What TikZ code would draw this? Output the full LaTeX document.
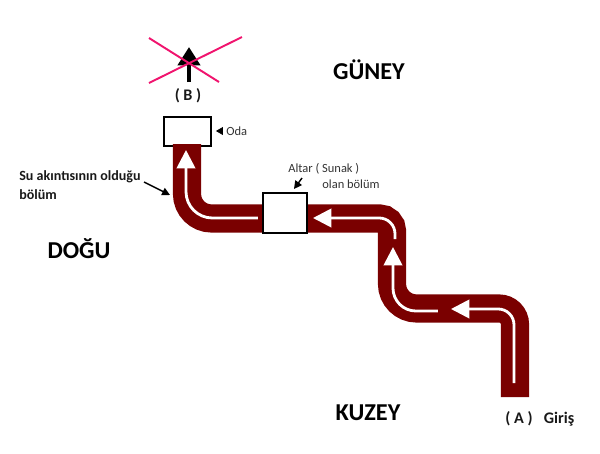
\documentclass[tikz,border=0pt]{standalone}
\usepackage{fontspec}
\setmainfont{Carlito}
\usetikzlibrary{arrows.meta}

\definecolor{boru}{RGB}{122,0,0}
\definecolor{carpi}{RGB}{240,20,110}

\tikzset{
  boruyol/.style={draw=boru, line width=16pt},
  akis/.style={draw=white, line width=1.6pt, -{Triangle[length=10.5pt,width=10.5pt]}},
  kutu/.style={draw=black, fill=white, line width=1pt, inner sep=0pt},
  yon/.style={font=\fontsize{13.8}{15}\selectfont\bfseries, inner sep=0pt},
  etiket/.style={font=\fontsize{7.1}{9}\selectfont, inner sep=0pt, text=black!80},
  kalin/.style={font=\fontsize{8}{10}\selectfont\bfseries, inner sep=0pt, text=black!90},
  harf/.style={font=\fontsize{9.2}{11}\selectfont\bfseries, inner sep=0pt, text=black!90},
  ok/.style={line width=0.8pt, -{Triangle[length=4.5pt,width=4.5pt]}}
}

\begin{document}
\begin{tikzpicture}[x=0.02cm, y=-0.02cm]

\useasboundingbox (0,0) rectangle (600,454);

% ---------- ODA ----------

\node[kutu, minimum width=0.94cm, minimum height=0.58cm] (oda) at (187.5,131.5) {};

% ---------- BORU ----------

\coordinate (b0) at (515,397);
\coordinate (b1) at (515,308.5);
\coordinate (b2) at (392,308.5);
\coordinate (b3) at (392,218.5);
\coordinate (b4) at (187,218.5);
\coordinate (b5) at (187,144);

\draw[boruyol] (b0) [rounded corners=9pt] -- (b1) [rounded corners=14pt] -- (b2)
  [rounded corners=7pt] -- (b3) [rounded corners=14pt] -- (b4) [rounded corners=0pt] -- (b5);

% ---------- SUNAK ----------

\node[kutu, minimum width=0.88cm, minimum height=0.8cm] (sunak) at (285,213) {};

% ---------- AKIS ----------

\coordinate (a0) at (514,383);
\coordinate (a1) at (514,309);
\coordinate (a2) at (451,309);
\coordinate (c0) at (438,311);
\coordinate (c1) at (393,311);
\coordinate (c2) at (393,247);
\coordinate (d0) at (395,239);
\coordinate (d1) at (395,218);
\coordinate (d2) at (313,218);
\coordinate (e0) at (258,218);
\coordinate (e1) at (186,218);
\coordinate (e2) at (186,150);

\draw[akis] (a0) [rounded corners=9pt] -- (a1) [rounded corners=0pt] -- (a2);
\draw[akis] (c0) [rounded corners=13pt] -- (c1) [rounded corners=0pt] -- (c2);
\draw[akis] (d0) [rounded corners=9pt] -- (d1) [rounded corners=0pt] -- (d2);
\draw[akis] (e0) [rounded corners=15pt] -- (e1) [rounded corners=0pt] -- (e2);

% ---------- YASAK OK ----------

\coordinate (y0) at (189,82);
\coordinate (y1) at (189,47);
\draw[line width=2.6pt, -{Triangle[length=10.5pt,width=12.5pt]}] (y0) -- (y1);

\coordinate (x1) at (149,38);
\coordinate (x2) at (219,82);
\coordinate (x3) at (242,37);
\coordinate (x4) at (149,83);
\draw[carpi, line width=1.1pt] (x1) -- (x2);
\draw[carpi, line width=1.1pt] (x3) -- (x4);

% ---------- YONLER ----------

\node[yon] (guney) at (369,70) {GÜNEY};
\node[yon] (dogu) at (79,249) {DOĞU};
\node[yon] (kuzey) at (368,413) {KUZEY};

% ---------- ETIKETLER ----------

\node[harf] (b) at (188,96) {( B )};
\node[harf] (a) at (519,419) {( A )};
\node[harf] (giris) at (559,419) {Giriş};

\node[etiket, anchor=west] (odayazi) at (226,131) {Oda};
\node[etiket, anchor=west] (altar) at (288,169) {Altar ( Sunak )};
\node[etiket, anchor=west] (olan) at (322,184) {olan bölüm};

\node[kalin, anchor=west] (su) at (19,177) {Su akıntısının olduğu};
\node[kalin, anchor=west] (bolum) at (19,195) {bölüm};

% ---------- OKLAR ----------

\coordinate (s0) at (144,182);
\coordinate (s1) at (170,195);
\draw[ok] (s0) -- (s1);

\coordinate (t0) at (302,178);
\coordinate (t1) at (294,189);
\draw[ok] (t0) -- (t1);

\draw[line width=0.4pt, -{Triangle[length=4pt,width=4.5pt]}, shorten >=2.3pt, shorten <=2.3pt]
  (odayazi.west) -- (oda.east |- odayazi.west);

\end{tikzpicture}
\end{document}
